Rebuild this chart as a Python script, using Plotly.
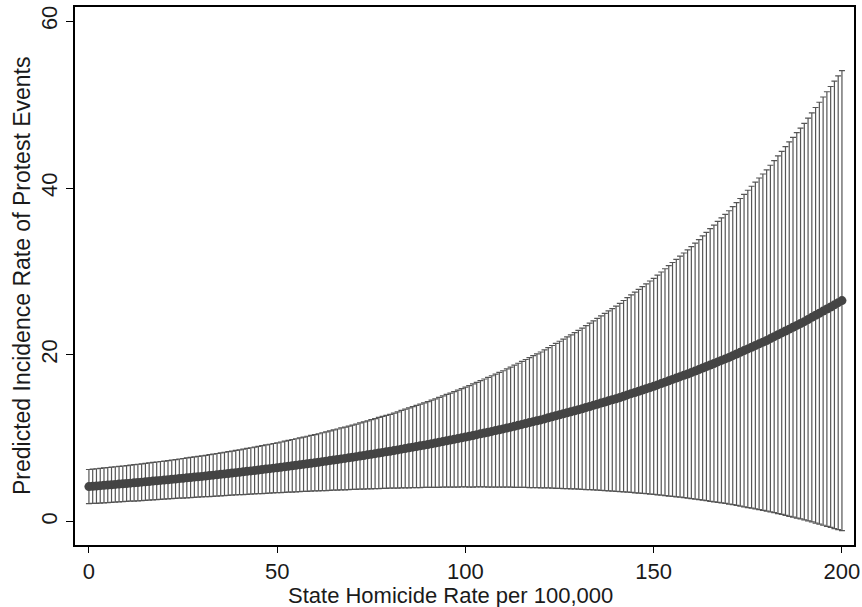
import plotly.graph_objects as go

# State homicide rate per 100,000 (x), one estimate per integer 0..200
homicide_rate = list(range(0, 201))

# Predicted incidence rate of protest events (point estimates)
predicted = [
    4.20, 4.24, 4.27, 4.31, 4.35, 4.39, 4.42, 4.46, 4.50, 4.53,
    4.57, 4.61, 4.65, 4.69, 4.73, 4.77, 4.81, 4.86, 4.90, 4.94,
    4.98, 5.02, 5.07, 5.11, 5.16, 5.20, 5.25, 5.29, 5.34, 5.38,
    5.42, 5.47, 5.52, 5.57, 5.62, 5.67, 5.72, 5.77, 5.82, 5.87,
    5.92, 5.97, 6.03, 6.08, 6.13, 6.19, 6.24, 6.30, 6.35, 6.41,
    6.46, 6.52, 6.58, 6.64, 6.70, 6.76, 6.82, 6.88, 6.94, 7.00,
    7.06, 7.12, 7.19, 7.25, 7.32, 7.39, 7.45, 7.52, 7.58, 7.65,
    7.72, 7.79, 7.86, 7.93, 8.01, 8.08, 8.15, 8.23, 8.30, 8.37,
    8.44, 8.52, 8.60, 8.69, 8.77, 8.85, 8.93, 9.01, 9.09, 9.17,
    9.25, 9.34, 9.42, 9.51, 9.60, 9.69, 9.78, 9.87, 9.96, 10.05,
    10.14, 10.23, 10.33, 10.43, 10.53, 10.63, 10.72, 10.82, 10.92, 11.02,
    11.12, 11.23, 11.33, 11.44, 11.55, 11.66, 11.77, 11.88, 11.99, 12.10,
    12.20, 12.32, 12.45, 12.57, 12.69, 12.81, 12.93, 13.05, 13.17, 13.29,
    13.41, 13.54, 13.68, 13.81, 13.94, 14.08, 14.21, 14.34, 14.48, 14.61,
    14.74, 14.89, 15.04, 15.19, 15.34, 15.48, 15.63, 15.78, 15.93, 16.08,
    16.22, 16.39, 16.55, 16.72, 16.88, 17.05, 17.21, 17.38, 17.54, 17.70,
    17.87, 18.05, 18.23, 18.42, 18.60, 18.78, 18.96, 19.15, 19.33, 19.51,
    19.69, 19.90, 20.10, 20.30, 20.51, 20.71, 20.91, 21.12, 21.32, 21.52,
    21.72, 21.95, 22.18, 22.40, 22.63, 22.85, 23.08, 23.31, 23.53, 23.76,
    23.98, 24.23, 24.49, 24.74, 24.99, 25.24, 25.49, 25.74, 25.99, 26.25,
    26.50,
]

# Half-width of the 95% confidence interval at each point
ci_halfwidth = [
    2.05, 2.06, 2.07, 2.08, 2.09, 2.10, 2.11, 2.12, 2.13, 2.14,
    2.15, 2.16, 2.18, 2.19, 2.20, 2.22, 2.23, 2.24, 2.25, 2.27,
    2.28, 2.30, 2.32, 2.33, 2.35, 2.37, 2.39, 2.41, 2.42, 2.44,
    2.46, 2.48, 2.51, 2.53, 2.55, 2.58, 2.60, 2.62, 2.64, 2.67,
    2.69, 2.72, 2.75, 2.78, 2.81, 2.84, 2.87, 2.90, 2.93, 2.96,
    2.99, 3.03, 3.07, 3.11, 3.15, 3.18, 3.22, 3.26, 3.30, 3.34,
    3.38, 3.42, 3.47, 3.52, 3.57, 3.61, 3.66, 3.71, 3.76, 3.80,
    3.85, 3.91, 3.97, 4.03, 4.08, 4.14, 4.20, 4.26, 4.32, 4.38,
    4.43, 4.50, 4.57, 4.64, 4.72, 4.79, 4.86, 4.93, 5.00, 5.07,
    5.14, 5.22, 5.31, 5.39, 5.47, 5.56, 5.64, 5.72, 5.81, 5.89,
    5.98, 6.08, 6.18, 6.27, 6.37, 6.47, 6.57, 6.67, 6.77, 6.87,
    6.97, 7.09, 7.20, 7.32, 7.44, 7.56, 7.67, 7.79, 7.91, 8.02,
    8.14, 8.28, 8.41, 8.55, 8.69, 8.82, 8.96, 9.10, 9.23, 9.37,
    9.51, 9.67, 9.83, 9.98, 10.14, 10.30, 10.46, 10.62, 10.78, 10.94,
    11.10, 11.29, 11.47, 11.66, 11.84, 12.03, 12.21, 12.40, 12.58, 12.77,
    12.95, 13.17, 13.38, 13.60, 13.81, 14.02, 14.24, 14.45, 14.67, 14.88,
    15.10, 15.35, 15.59, 15.84, 16.09, 16.34, 16.59, 16.84, 17.08, 17.33,
    17.58, 17.87, 18.15, 18.44, 18.73, 19.02, 19.30, 19.59, 19.88, 20.16,
    20.45, 20.78, 21.11, 21.44, 21.77, 22.11, 22.44, 22.77, 23.10, 23.43,
    23.76, 24.14, 24.52, 24.91, 25.29, 25.67, 26.05, 26.43, 26.82, 27.20,
    27.58,
]

x_ticks = [0, 50, 100, 150, 200]
y_ticks = [0, 20, 40, 60]
x_title = "State Homicide Rate per 100,000"
y_title = "Predicted Incidence Rate of Protest Events"

FONT = "Liberation Sans, Arial, sans-serif"
TEXT = "#1a1a1a"

fig = go.Figure()
fig.add_trace(go.Scatter(
    x=homicide_rate,
    y=predicted,
    mode="markers",
    marker=dict(symbol="circle", size=9, color="#444444", line=dict(width=0)),
    error_y=dict(
        type="data",
        array=ci_halfwidth,
        symmetric=True,
        color="#555555",
        thickness=1.2,
        width=3,
    ),
    showlegend=False,
))

fig.update_layout(
    width=862,
    height=607,
    margin=dict(l=75, r=8, t=7, b=62, autoexpand=False),
    paper_bgcolor="white",
    plot_bgcolor="white",
    font=dict(family=FONT, size=20, color=TEXT),
    showlegend=False,
)

fig.update_xaxes(
    range=[-3.7, 203.2],
    tickmode="array",
    tickvals=x_ticks,
    ticktext=[str(v) for v in x_ticks],
    ticks="outside",
    ticklen=6,
    tickwidth=1.3,
    tickcolor="black",
    showgrid=False,
    zeroline=False,
    showline=True,
    linecolor="black",
    linewidth=1.6,
    mirror=True,
    automargin=False,
    tickfont=dict(size=22, family=FONT, color=TEXT),
)

fig.update_yaxes(
    range=[-2.8, 61.7],
    tickmode="array",
    tickvals=y_ticks,
    ticktext=[str(v) for v in y_ticks],
    ticks="outside",
    ticklen=7,
    tickwidth=1.3,
    tickcolor="black",
    tickangle=-90,
    showgrid=False,
    zeroline=False,
    showline=True,
    linecolor="black",
    linewidth=1.6,
    mirror=True,
    automargin=False,
    tickfont=dict(size=22, family=FONT, color=TEXT),
)

# Axis titles placed as annotations to match the reference positions
fig.add_annotation(
    text=x_title, xref="paper", yref="paper", x=0.482, y=-0.0935,
    xanchor="center", yanchor="middle", showarrow=False,
    font=dict(size=22, family=FONT, color=TEXT),
)
fig.add_annotation(
    text=y_title, xref="paper", yref="paper", x=-0.068, y=0.50,
    xanchor="center", yanchor="middle", textangle=-90, showarrow=False,
    font=dict(size=23, family=FONT, color=TEXT),
)

# Remove the browser's default body margin so the figure fills the window exactly
fig.write_html(
    "out.html",
    config={"displayModeBar": False},
    post_script="document.body.style.margin='0';",
)
